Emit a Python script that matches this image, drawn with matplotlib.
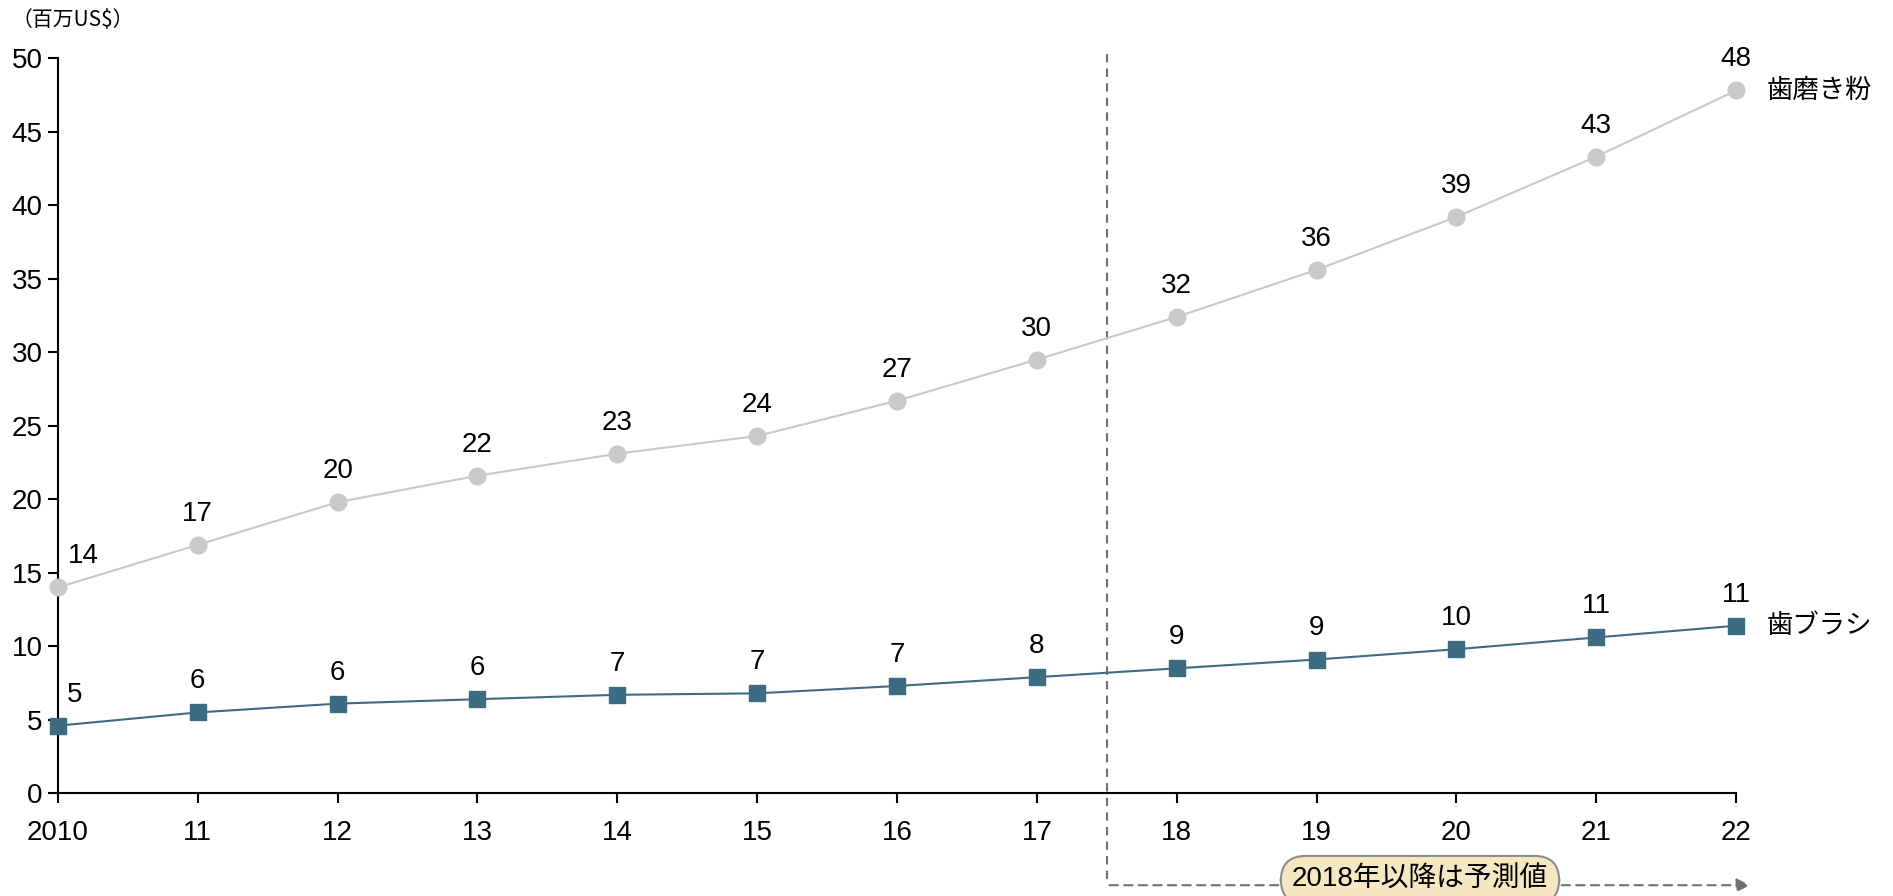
import matplotlib
matplotlib.use("Agg")
import matplotlib.pyplot as plt
from matplotlib.patches import FancyArrowPatch

plt.rcParams['font.family'] = ['Liberation Sans', 'Noto Sans CJK JP', 'DejaVu Sans']

# data
years = [2010, 2011, 2012, 2013, 2014, 2015, 2016, 2017, 2018, 2019, 2020, 2021, 2022]
year_labels = ['2010', '11', '12', '13', '14', '15', '16', '17', '18', '19', '20', '21', '22']
toothpaste = [14.0, 16.9, 19.8, 21.6, 23.1, 24.3, 26.7, 29.5, 32.4, 35.6, 39.2, 43.3, 47.8]
toothpaste_labels = ['14', '17', '20', '22', '23', '24', '27', '30', '32', '36', '39', '43', '48']
toothbrush = [4.6, 5.5, 6.1, 6.4, 6.7, 6.8, 7.3, 7.9, 8.5, 9.1, 9.8, 10.6, 11.4]
toothbrush_labels = ['5', '6', '6', '6', '7', '7', '7', '8', '9', '9', '10', '11', '11']

paste_color = '#C9C9C9'
brush_color = '#3D6B81'
fs = 20

fig = plt.figure(figsize=(18.93, 8.96), dpi=100)
ax = fig.add_axes([0.0306, 0.1146, 0.8865, 0.8205])

ax.plot(years, toothpaste, color=paste_color, lw=1.5, marker='o', markersize=12,
        markeredgecolor=paste_color, clip_on=False, zorder=3)
ax.plot(years, toothbrush, color=brush_color, lw=1.5, marker='s', markersize=11,
        markeredgecolor=brush_color, clip_on=False, zorder=3)

# data labels above points, first one nudged right
for i, (x, y) in enumerate(zip(years, toothpaste)):
    dx = 18 if i == 0 else 0
    ax.annotate(toothpaste_labels[i], (x, y), xytext=(dx, 13), textcoords='offset points',
                ha='center', va='bottom', fontsize=fs)
for i, (x, y) in enumerate(zip(years, toothbrush)):
    dx = 12 if i == 0 else 0
    ax.annotate(toothbrush_labels[i], (x, y), xytext=(dx, 13), textcoords='offset points',
                ha='center', va='bottom', fontsize=fs)

# series names at right end
ax.annotate('歯磨き粉', (years[-1], toothpaste[-1]), xytext=(22, 0), textcoords='offset points',
            ha='left', va='center', fontsize=19, family=['Noto Sans CJK JP'], annotation_clip=False)
ax.annotate('歯ブラシ', (years[-1], toothbrush[-1]), xytext=(22, 0), textcoords='offset points',
            ha='left', va='center', fontsize=19, family=['Noto Sans CJK JP'], annotation_clip=False)

ax.set_xlim(2010, 2022)
ax.set_ylim(0, 50)
ax.set_xticks(years)
ax.set_xticklabels(year_labels)
ax.set_yticks(range(0, 51, 5))
ax.tick_params(labelsize=fs, length=7, width=1.5, direction='out', pad=4)
ax.tick_params(axis='x', pad=12)
for s in ['top', 'right']:
    ax.spines[s].set_visible(False)
for s in ['left', 'bottom']:
    ax.spines[s].set_linewidth(1.5)

# forecast divider and arrow
ax.plot([2017.5, 2017.5], [50.3, -6.25], color='#707070', lw=1.5, ls=(0, (4, 3)),
        clip_on=False, zorder=2)
arr = FancyArrowPatch((2017.5, -6.25), (2022.12, -6.25), arrowstyle='-|>', mutation_scale=20,
                      color='#707070', lw=1.5, ls=(0, (4, 3)), clip_on=False, zorder=2)
ax.add_patch(arr)
ax.text(2019.74, -5.9, '2018年以降は予測値', ha='center', va='center', fontsize=fs,
        family=['Liberation Sans', 'Noto Sans CJK JP'], zorder=4, clip_on=False,
        bbox=dict(boxstyle='round,pad=0.4,rounding_size=0.9', fc='#F6E7C3', ec='#8C8C8C', lw=1.5))

fig.text(0.006, 0.978, '（百万US$）', ha='left', va='center', fontsize=15,
         family=['Noto Sans CJK JP'])

fig.savefig('out.png', dpi=100)
